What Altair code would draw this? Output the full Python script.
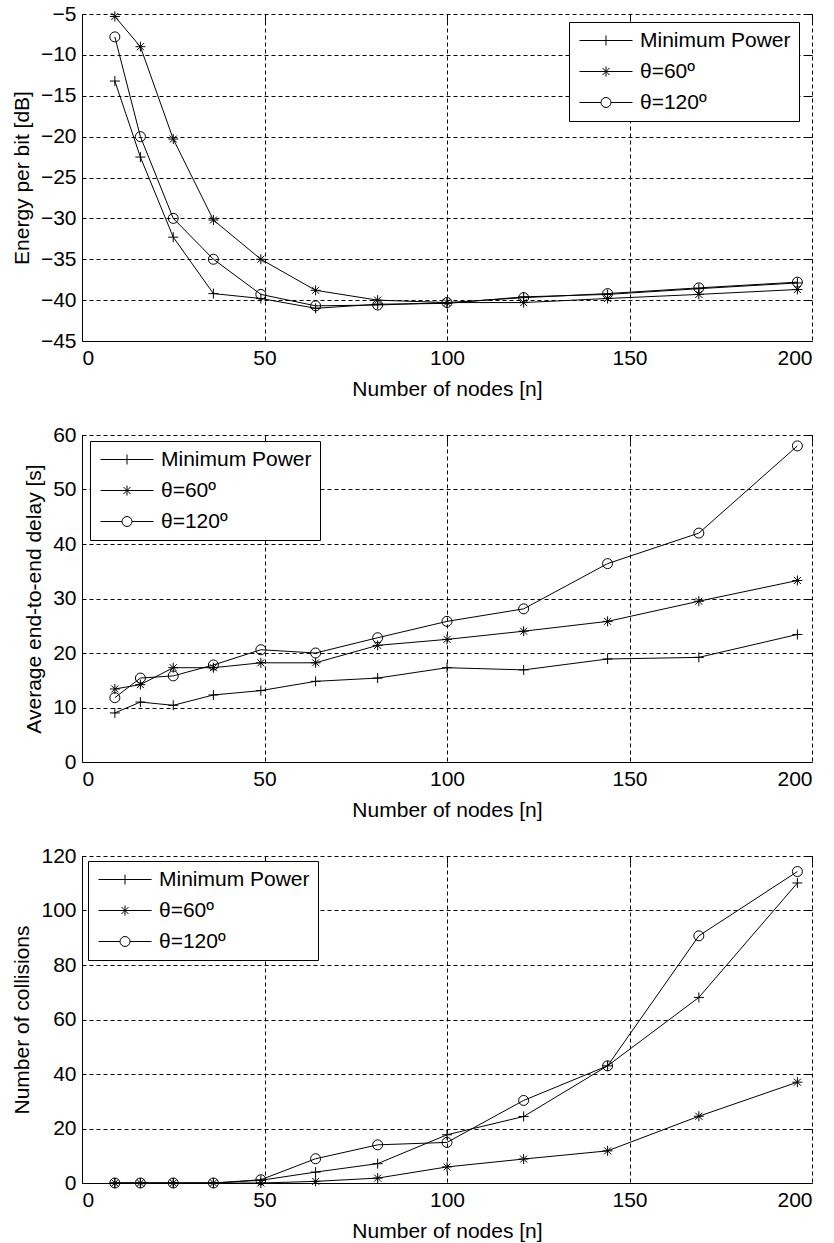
import altair as alt
import pandas as pd

nodes = [9, 16, 25, 36, 49, 64, 81, 100, 121, 144, 169, 196]
series_names = ["Minimum Power", "θ=60º", "θ=120º"]

energy_minpower = [-13.2, -22.5, -32.3, -39.2, -39.8, -41.0, -40.5, -40.4, -39.6, -39.3, -38.6, -37.9]
energy_theta60 = [-5.3, -9.0, -20.3, -30.2, -35.0, -38.8, -40.0, -40.3, -40.3, -39.8, -39.3, -38.7]
energy_theta120 = [-7.8, -20.0, -30.0, -35.0, -39.3, -40.7, -40.6, -40.3, -39.7, -39.2, -38.5, -37.8]

delay_minpower = [9.0, 11.0, 10.4, 12.3, 13.1, 14.8, 15.4, 17.3, 16.9, 18.9, 19.2, 23.4]
delay_theta60 = [13.4, 14.2, 17.3, 17.3, 18.2, 18.2, 21.4, 22.5, 24.0, 25.8, 29.5, 33.3]
delay_theta120 = [11.8, 15.4, 15.8, 17.8, 20.6, 20.0, 22.8, 25.8, 28.1, 36.4, 42.0, 58.0]

coll_minpower = [0, 0, 0, 0, 1.0, 4.0, 7.1, 17.7, 24.4, 43.0, 68.1, 110.1]
coll_theta60 = [0, 0, 0, 0, 0, 0.6, 1.8, 5.9, 8.8, 11.8, 24.5, 37.0]
coll_theta120 = [0, 0, 0, 0, 1.2, 8.9, 14.0, 14.9, 30.3, 43.0, 90.7, 114.3]

x_ticks = [0, 50, 100, 150, 200]

FONT = "Liberation Sans"
FS = 21

marker_paths = [
    "M-1,0L1,0M0,-1L0,1",
    "M-1,0L1,0M0,-1L0,1M-0.7,-0.7L0.7,0.7M-0.7,0.7L0.7,-0.7",
    "circle",
]
# legend symbols: line segment with the marker in its middle (unit = 10 px)
legend_paths = [
    "M-0.8,0L4.5,0M1.85,-0.5L1.85,0.5",
    "M-0.8,0L4.5,0M1.85,-0.5L1.85,0.5M1.5,-0.35L2.2,0.35M1.5,0.35L2.2,-0.35",
    "M-0.8,0L1.35,0M2.35,0L4.5,0M2.35,0A0.5,0.5,0,1,1,1.35,0A0.5,0.5,0,1,1,2.35,0",
]


def long_df(values):
    rows = []
    for name, vals in zip(series_names, values):
        for i, (x, y) in enumerate(zip(nodes, vals)):
            rows.append({"n": x, "v": y, "series": name, "idx": i})
    return pd.DataFrame(rows)


def panel(values, ytitle, ydomain, ystep, lx, ly):
    df = long_df(values)
    yticks = list(range(ydomain[0], ydomain[1] + 1, ystep))
    xs = alt.Scale(domain=[0, 200], nice=False, zero=False)
    ys = alt.Scale(domain=list(ydomain), nice=False, zero=False)
    x = alt.X("n:Q", title="Number of nodes [n]", scale=xs,
              axis=alt.Axis(values=x_ticks, grid=True))
    y = alt.Y("v:Q", title=ytitle, scale=ys,
              axis=alt.Axis(values=yticks, grid=True))
    base = alt.Chart(df)
    lines = base.mark_line(color="black", strokeWidth=1).encode(
        x=x, y=y, detail="series:N", order="idx:Q")
    points = base.mark_point(filled=False, color="black", strokeWidth=1, size=100, opacity=1).encode(
        x=alt.X("n:Q", scale=xs, axis=None), y=alt.Y("v:Q", scale=ys, axis=None),
        shape=alt.Shape("series:N", sort=series_names,
                        scale=alt.Scale(domain=series_names, range=marker_paths),
                        legend=None))
    # inward ticks (MATLAB style)
    ticks = base.mark_point(opacity=0, size=1).encode(
        x=alt.X("n:Q", scale=xs, axis=alt.Axis(
            values=x_ticks, labels=False, title=None, grid=False, domain=False,
            ticks=True, tickSize=7, offset=-7, tickColor="black", tickWidth=1)),
        y=alt.Y("v:Q", scale=ys, axis=alt.Axis(
            values=yticks, labels=False, title=None, grid=False, domain=False,
            ticks=True, tickSize=7, offset=-7, tickColor="black", tickWidth=1)))
    carrier = base.mark_point(filled=False, color="black", opacity=0, size=1).encode(
        x=alt.X("n:Q", scale=xs, axis=None), y=alt.Y("v:Q", scale=ys, axis=None),
        shape=alt.Shape("series:N", sort=series_names,
                        scale=alt.Scale(domain=series_names, range=legend_paths),
                        legend=alt.Legend(
                            title=None, orient="none", legendX=lx, legendY=ly,
                            strokeColor="black", fillColor="white", padding=8,
                            labelFont=FONT, labelFontSize=FS, labelColor="black",
                            labelLimit=400, labelOffset=42, rowPadding=9,
                            symbolSize=400, symbolStrokeColor="black",
                            symbolStrokeWidth=1, symbolFillColor="white",
                            symbolOpacity=1, cornerRadius=0)))
    return alt.layer(lines, points, ticks, carrier).resolve_scale(
        shape="independent").resolve_axis(x="independent", y="independent").properties(
        width=730, height=327)


top = panel([energy_minpower, energy_theta60, energy_theta120],
            "Energy per bit [dB]", (-45, -5), 5, 487, 8)
mid = panel([delay_minpower, delay_theta60, delay_theta120],
            "Average end-to-end delay [s]", (0, 60), 10, 8, 6)
bot = panel([coll_minpower, coll_theta60, coll_theta120],
            "Number of collisions", (0, 120), 20, 6, 5)

chart = alt.vconcat(top, mid, bot, spacing=94, bounds="flush").properties(
    padding={"left": 11, "top": 3, "right": 5, "bottom": 5},
    background="white",
).configure_view(stroke=None).configure_axis(
    labelFont=FONT, titleFont=FONT, labelFontSize=FS, titleFontSize=FS,
    titleFontWeight="normal", labelColor="black", titleColor="black",
    domainColor="black", domainWidth=1, gridColor="black", gridDash=[4, 3],
    gridWidth=1, gridOpacity=1, tickSize=0, labelPadding=6, titlePadding=8,
).configure_axisX(labelPadding=6, titlePadding=10)

chart.save("out.html", embed_options={"renderer": "svg", "actions": False})
